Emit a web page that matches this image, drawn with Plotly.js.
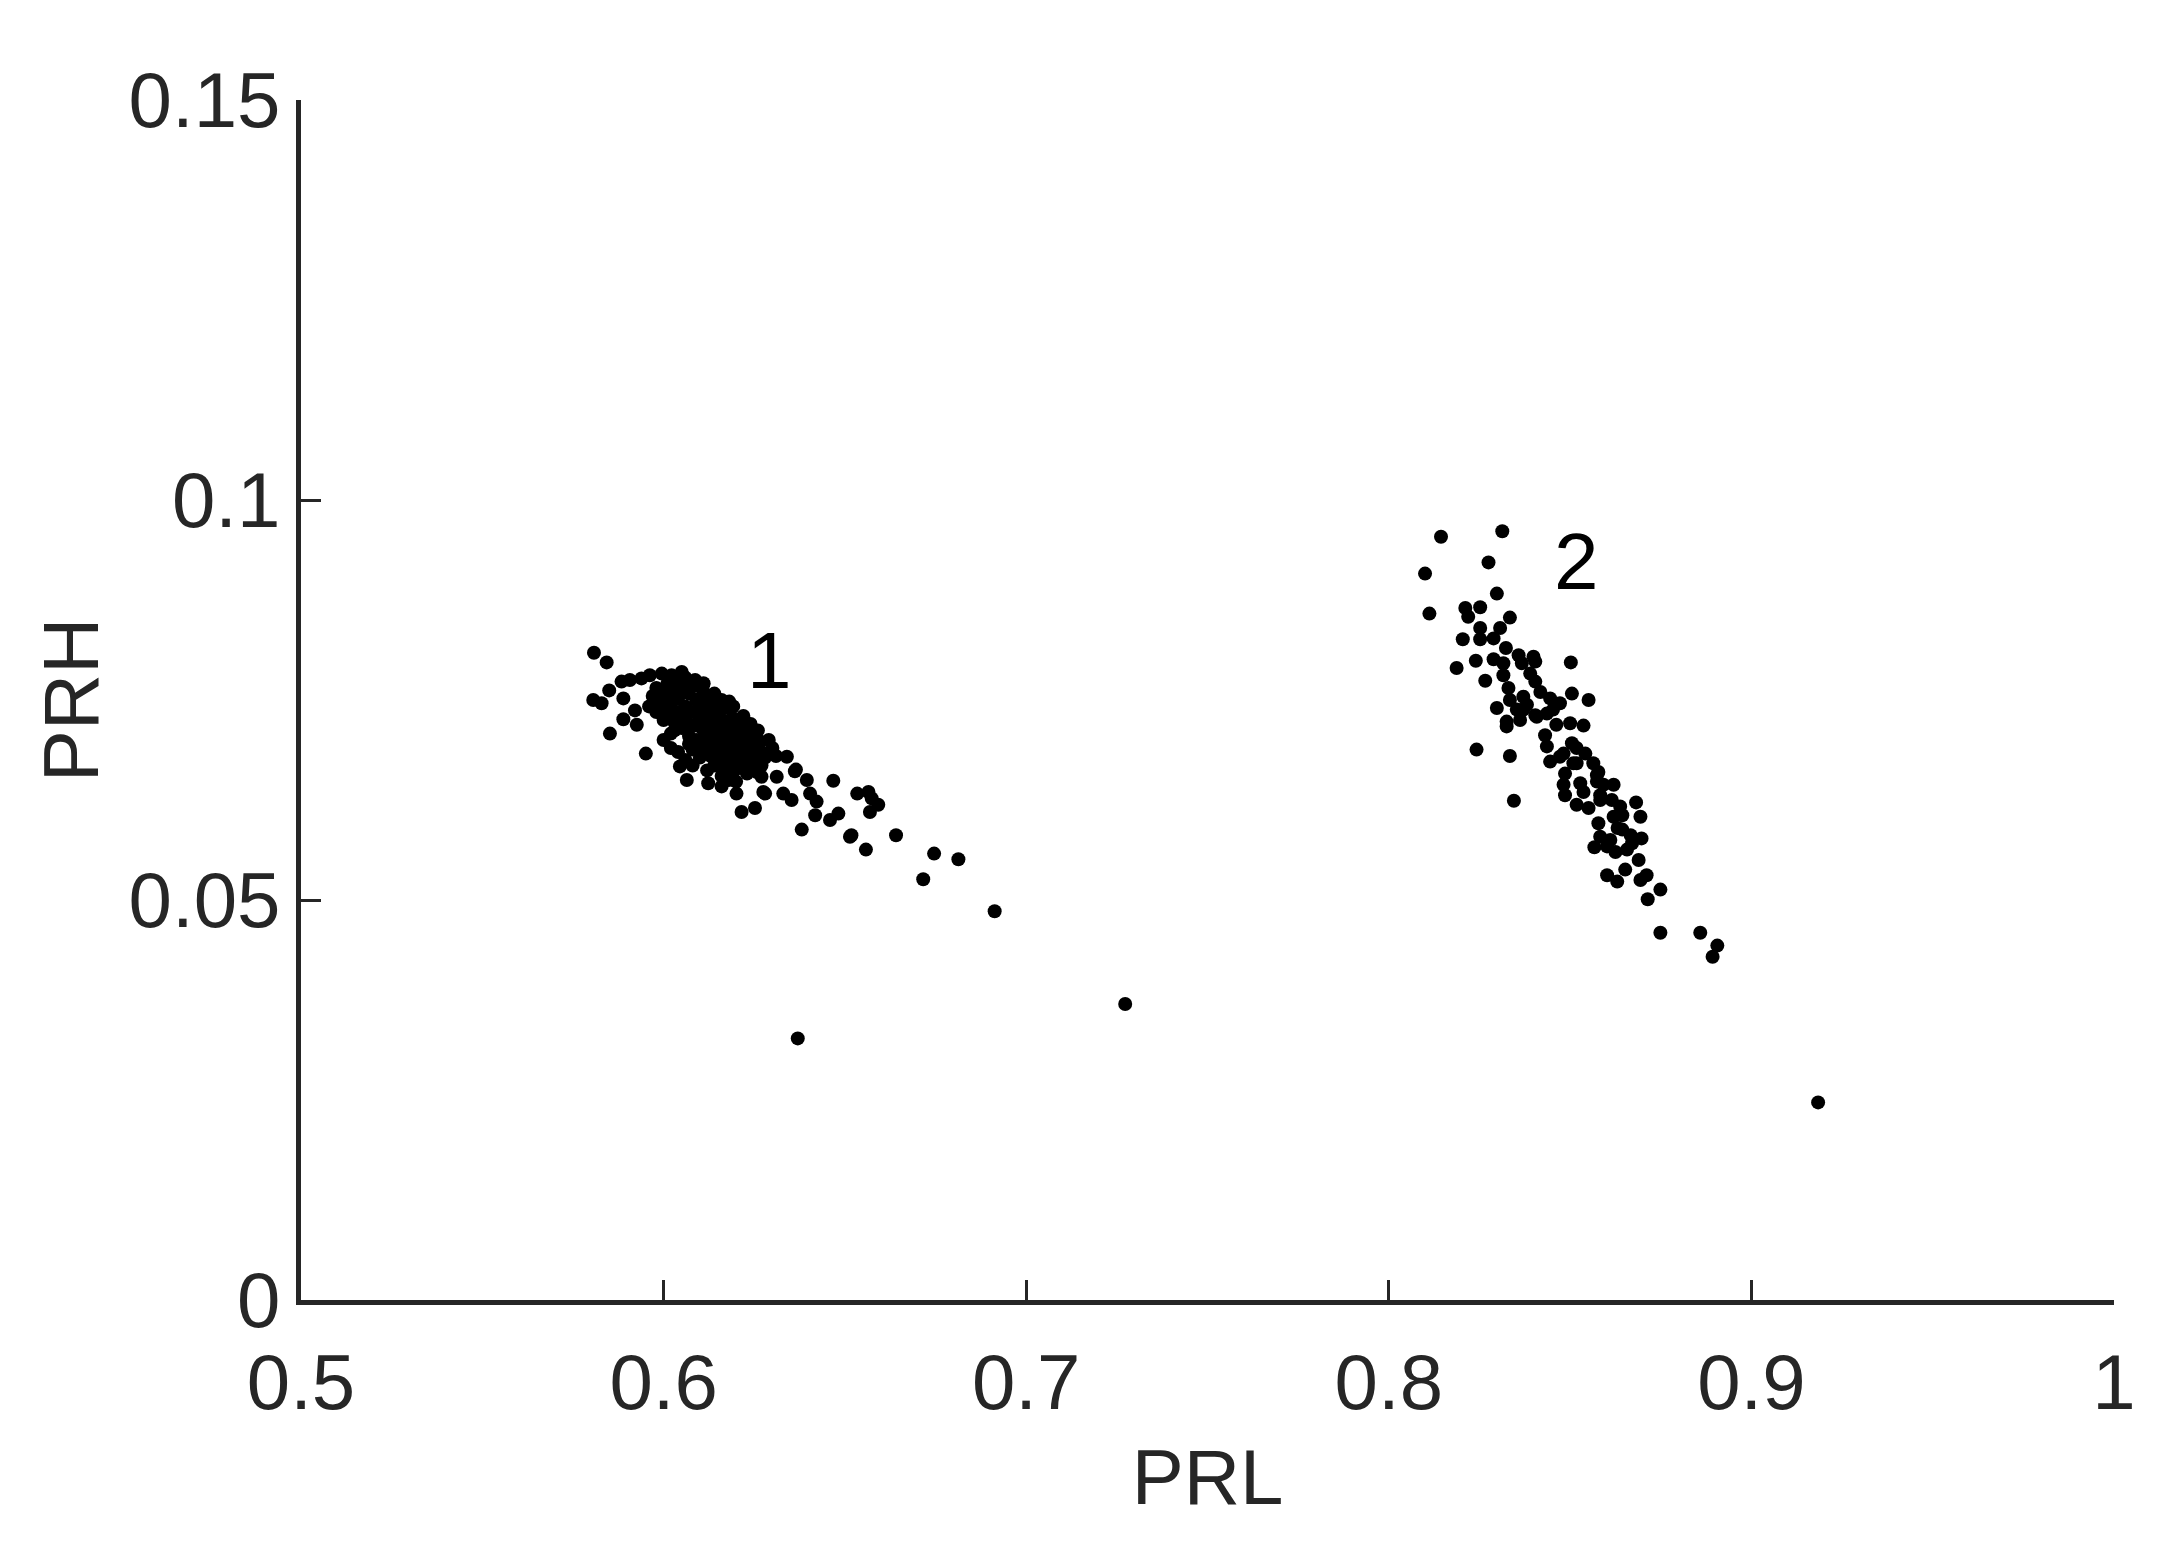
<!DOCTYPE html>
<html>
<head>
<meta charset="utf-8">
<script src="https://cdn.plot.ly/plotly-3.0.1.min.js"></script>
<style>html,body{margin:0;padding:0;background:#fff;}#chart{width:2183px;height:1546px;}</style>
</head>
<body>
<div id="chart"></div>
<script>
// Cluster 1 (PRL, PRH)
const prl1 = [0.5808,0.5843,0.5806,0.5829,0.5850,0.5884,0.5907,0.5889,0.5852,0.5889,0.5921,0.5926,0.5951,0.5939,0.5962,0.5995,0.6022,0.6050,0.6087,0.6110,0.6059,0.6114,0.6181,0.6192,0.6238,0.6266,0.6284,0.6340,0.6365,0.6395,0.6468,0.6312,0.6330,0.6353,0.6404,0.6422,0.6418,0.6381,0.6459,0.6482,0.6518,0.6534,0.6565,0.6592,0.6569,0.6558,0.6641,0.6746,0.6813,0.6716,0.6215,0.6252,0.6064,0.6123,0.6160,0.6201,0.6045,0.6280,0.6243,0.6270,0.6362,0.6574,0.6514,0.6913,0.6275,0.6257,
0.598,0.600,0.601,0.602,0.603,0.604,0.604,0.605,0.606,0.606,0.607,0.608,0.608,0.609,0.610,0.610,0.611,0.611,0.612,0.612,0.613,0.613,0.614,0.614,0.615,0.615,0.616,0.616,0.617,0.617,0.618,0.618,0.619,0.619,0.620,0.620,0.621,0.621,0.622,0.622,0.623,0.623,0.624,0.624,0.625,0.625,0.626,0.626,0.627,0.627,0.628,0.609,0.607,0.605,0.603,0.611,0.613,0.615,0.617,0.619,0.612,0.609,0.606,0.600,0.598,0.602,0.614,0.616,0.621,0.623,0.610,0.608,
0.600,0.602,0.604,0.606,0.608,0.612,0.618,0.620,0.603,0.607,0.611,0.614,0.616,0.619,0.622,0.624,0.626,0.629,0.630,0.631,
0.599,0.601,0.603,0.605,0.607,0.609,0.611,0.613,0.615,0.617,0.619,0.621,0.597,0.596,0.601,0.604,0.606,0.610,0.612,0.618,
0.6370,0.7273];
const prh1 = [0.0809,0.0797,0.0750,0.0746,0.0762,0.0773,0.0775,0.0752,0.0708,0.0726,0.0737,0.0719,0.0683,0.0777,0.0781,0.0783,0.0781,0.0785,0.0775,0.0771,0.0762,0.0750,0.0748,0.0742,0.0719,0.0698,0.0681,0.0679,0.0663,0.0650,0.0649,0.0654,0.0633,0.0625,0.0633,0.0623,0.0606,0.0588,0.0600,0.0608,0.0581,0.0633,0.0635,0.0619,0.0610,0.0563,0.0581,0.0558,0.0551,0.0526,0.0610,0.0615,0.0650,0.0646,0.0642,0.0633,0.0667,0.0633,0.0667,0.0654,0.0661,0.0627,0.0579,0.0486,0.0635,0.0660,
0.0765,0.0755,0.0770,0.0745,0.0760,0.0735,0.0752,0.0770,0.0742,0.0728,0.0758,0.0735,0.0718,0.0750,0.0728,0.0740,0.0712,0.0760,0.0732,0.0722,0.0745,0.0705,0.0718,0.0730,0.0738,0.0700,0.0712,0.0725,0.0690,0.0740,0.0705,0.0718,0.0728,0.0695,0.0710,0.0685,0.0720,0.0700,0.0690,0.0712,0.0680,0.0700,0.0692,0.0672,0.0705,0.0685,0.0675,0.0695,0.0668,0.0685,0.0678,0.0700,0.0705,0.0715,0.0722,0.0690,0.0680,0.0675,0.0665,0.0660,0.0752,0.0768,0.0778,0.0725,0.0735,0.0708,0.0668,0.0655,0.0665,0.0658,0.0678,0.0688,
0.0700,0.0690,0.0685,0.0675,0.0668,0.0662,0.0650,0.0648,0.0775,0.0772,0.0770,0.0758,0.0750,0.0742,0.0730,0.0720,0.0712,0.0700,0.0690,0.0680,
0.0745,0.0732,0.0712,0.0728,0.0695,0.0718,0.0700,0.0692,0.0688,0.0678,0.0672,0.0676,0.0755,0.0742,0.0760,0.0765,0.0760,0.0752,0.0708,0.0695,
0.0327,0.0370];

// Cluster 2 (PRL, PRH)
const prl2 = [0.8144,0.8313,0.8100,0.8275,0.8298,0.8112,0.8211,0.8252,0.8219,0.8334,0.8252,0.8307,0.8289,0.8252,0.8204,0.8323,0.8240,0.8289,0.8316,0.8358,0.8367,0.8399,0.8404,0.8187,0.8502,0.8266,0.8316,0.8390,0.8404,0.8330,0.8334,0.8371,0.8418,0.8445,0.8472,0.8505,0.8551,0.8298,0.8353,0.8325,0.8362,0.8325,0.8242,0.8334,0.8345,
0.8371,0.8404,0.8453,0.8462,0.8500,0.8537,0.8431,0.8436,0.8445,0.8482,0.8505,0.8542,0.8518,0.8564,0.8578,0.8486,0.8482,0.8528,0.8574,0.8620,0.8486,0.8518,0.8551,0.8583,0.8615,0.8638,0.8682,0.8694,0.8644,0.8620,0.8578,0.8631,0.8644,0.8667,0.8697,0.8583,0.8611,0.8567,0.8602,0.8625,0.8657,0.8671,0.8689,0.8652,0.8602,0.8630,0.8694,0.8711,0.8749,0.8714,0.8749,0.8859,0.8906,0.8893,
0.8381,0.8408,0.8436,0.8518,0.8472,0.8509,0.8574,0.8592,0.8537,0.8583,
0.9184];
const prh2 = [0.0954,0.0961,0.0908,0.0922,0.0883,0.0858,0.0865,0.0866,0.0854,0.0853,0.0840,0.0840,0.0827,0.0826,0.0826,0.0815,0.0799,0.0801,0.0796,0.0806,0.0796,0.0804,0.0798,0.0790,0.0797,0.0774,0.0781,0.0783,0.0773,0.0765,0.0750,0.0754,0.0760,0.0752,0.0746,0.0758,0.0750,0.0740,0.0738,0.0723,0.0725,0.0717,0.0688,0.0680,0.0624,
0.0738,0.0731,0.0738,0.0719,0.0721,0.0718,0.0706,0.0692,0.0673,0.0683,0.0696,0.0683,0.0671,0.0671,0.0660,0.0658,0.0644,0.0646,0.0648,0.0644,0.0631,0.0619,0.0615,0.0625,0.0625,0.0617,0.0622,0.0604,0.0606,0.0604,0.0596,0.0590,0.0588,0.0581,0.0577,0.0579,0.0575,0.0566,0.0567,0.0560,0.0563,0.0571,0.0550,0.0538,0.0531,0.0523,0.0525,0.0531,0.0513,0.0501,0.0459,0.0459,0.0443,0.0429,
0.0744,0.0729,0.0733,0.0690,0.0679,0.0671,0.0656,0.0644,0.0635,0.0631,
0.0247];

// Cluster labels
const labelText = ["1", "2"];
const labelX = [0.6293, 0.8519];
const labelY = [0.0799, 0.0923];

// Axis ticks
const xTickVals = [0.5, 0.6, 0.7, 0.8, 0.9, 1];
const xTickText = ["0.5", "0.6", "0.7", "0.8", "0.9", "1"];
const yTickVals = [0, 0.05, 0.1, 0.15];
const yTickText = ["0", "0.05", "0.1", "0.15"];

const FONT = "Liberation Sans, Arial, Helvetica, sans-serif";
const AX = "#262626";

const marker = {size: 14, color: "#000000", line: {width: 0}};
const traces = [
  {x: prl1, y: prh1, type: "scatter", mode: "markers", marker: marker, showlegend: false, hoverinfo: "x+y"},
  {x: prl2, y: prh2, type: "scatter", mode: "markers", marker: marker, showlegend: false, hoverinfo: "x+y"}
];

const annotations = labelText.map((t, i) => ({
  x: labelX[i], y: labelY[i], xref: "x", yref: "y", text: t, showarrow: false,
  font: {family: FONT, size: 80, color: "#000000"}, xanchor: "center", yanchor: "middle"
}));

const axisCommon = {
  showgrid: false, zeroline: false, showline: true, linecolor: AX, linewidth: 5,
  ticks: "inside", ticklen: 20, tickwidth: 3, tickcolor: AX, mirror: false,
  tickfont: {family: FONT, size: 78, color: AX}, tickmode: "array"
};

const layout = {
  width: 2183, height: 1546,
  margin: {l: 301, r: 69, t: 100, b: 246, pad: 0},
  paper_bgcolor: "#ffffff", plot_bgcolor: "#ffffff",
  xaxis: Object.assign({}, axisCommon, {
    range: [0.5, 1], tickvals: xTickVals, ticktext: xTickText, ticklabelstandoff: 10,
    title: {text: "PRL", font: {family: FONT, size: 78, color: AX}, standoff: 26}
  }),
  yaxis: Object.assign({}, axisCommon, {
    range: [0, 0.15], tickvals: yTickVals, ticktext: yTickText,
    title: {text: "PRH", font: {family: FONT, size: 78, color: AX}, standoff: 6}
  }),
  annotations: annotations,
  showlegend: false
};

Plotly.newPlot("chart", traces, layout, {displayModeBar: false, staticPlot: true});
</script>
</body>
</html>
